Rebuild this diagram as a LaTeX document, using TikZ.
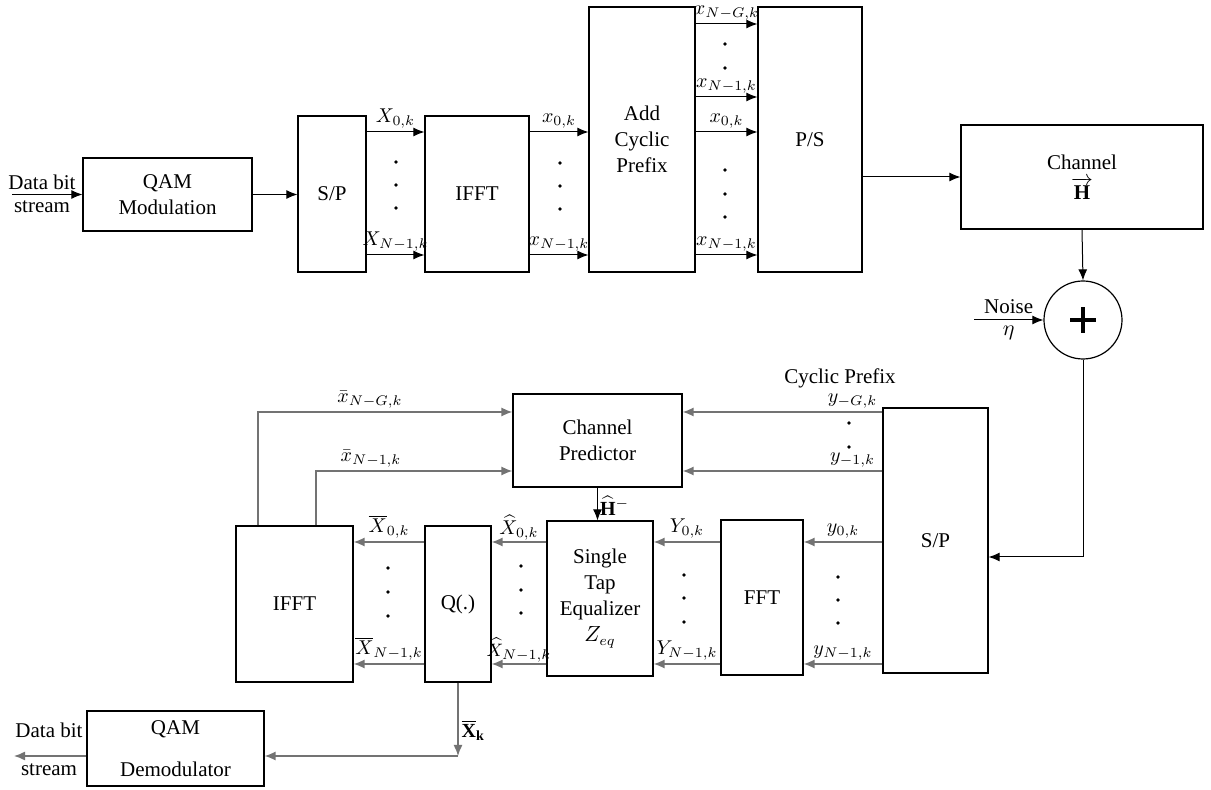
\documentclass[tikz,border=0pt]{standalone}
\usepackage{amsmath,amssymb}
\usepackage{fontspec}
\setmainfont{Liberation Serif}
\usetikzlibrary{arrows.meta}
\colorlet{linegray}{black!55}

\begin{document}
\begin{tikzpicture}[x=0.5pt,y=-0.5pt,
  blk/.style={draw, line width=0.6pt, inner sep=1pt, align=center,
    font=\fontsize{10.5}{13}\selectfont},
  arr/.style={-{Latex[length=5.5pt,width=4.5pt]}, line width=0.5pt},
  garr/.style={arr, draw=linegray, line width=0.7pt},
  lbl/.style={inner sep=1.5pt, font=\fontsize{10}{12}\selectfont},
  txt/.style={inner sep=1pt, font=\fontsize{10.5}{13}\selectfont}]
  \useasboundingbox (0,0) rectangle (1211,790);

  % transmitter
  \node[blk, minimum width=84.5pt, minimum height=36.5pt] (qam) at (167.5,194.5) {QAM\\Modulation};
  \node[blk, minimum width=34pt, minimum height=78pt] (sp1) at (332,194) {S/P};
  \node[blk, minimum width=52pt, minimum height=78pt] (ifft1) at (477,194) {IFFT};
  \node[blk, minimum width=53pt, minimum height=132.5pt] (acp) at (642,139.5) {Add\\Cyclic\\Prefix};
  \node[blk, minimum width=52pt, minimum height=132.5pt] (ps) at (810,139.5) {P/S};
  \node[blk, minimum width=121pt, minimum height=52pt] (chan) at (1082,177) {Channel\\[2pt]$\overrightarrow{\mathbf{H}}$};
  \node[draw, circle, line width=0.6pt, minimum size=39pt, inner sep=0pt] (add) at (1083,320) {};
  \draw[line width=1.6pt] ([xshift=-6.5pt]add.center) -- ([xshift=6.5pt]add.center)
    ([yshift=-6.5pt]add.center) -- ([yshift=6.5pt]add.center);

  \coordinate (in) at (12,194.5);
  \draw[arr] (in) -- (qam.west);
  \node[txt] (inA) at (42,182) {Data bit};
  \node[txt] (inB) at (42,207) {stream};
  \draw[arr] (qam.east) -- (qam.east -| sp1.west);

  \draw[arr] (sp1.east |- 0,132) -- node[lbl,above] (lXa) {$X_{0,k}$} (ifft1.west |- 0,132);
  \draw[arr] (sp1.east |- 0,255) -- node[lbl,above] (lXb) {$X_{N-1,k}$} (ifft1.west |- 0,255);
  \draw[arr] (ifft1.east |- 0,132) -- node[lbl,above] (lxa) {$x_{0,k}$} (acp.west |- 0,132);
  \draw[arr] (ifft1.east |- 0,255) -- node[lbl,above] (lxb) {$x_{N-1,k}$} (acp.west |- 0,255);
  \draw[arr] (acp.east |- 0,24) -- node[lbl,above] (lpa) {$x_{N-G,k}$} (ps.west |- 0,24);
  \draw[arr] (acp.east |- 0,97) -- node[lbl,above] (lpb) {$x_{N-1,k}$} (ps.west |- 0,97);
  \draw[arr] (acp.east |- 0,132) -- node[lbl,above] (lpc) {$x_{0,k}$} (ps.west |- 0,132);
  \draw[arr] (acp.east |- 0,255) -- node[lbl,above] (lpd) {$x_{N-1,k}$} (ps.west |- 0,255);
  \foreach \y in {162,185,208} \fill (396,\y) circle (0.9pt);
  \foreach \y in {163,186,209} \fill (560,\y) circle (0.9pt);
  \foreach \y in {44,68,170,194,217} \fill (725,\y) circle (0.9pt);

  \draw[arr] (ps.east |- chan.west) -- (chan.west);
  \draw[arr] (chan.south) -- (add.north);
  \coordinate (noise) at (974,320);
  \draw[arr] (noise) -- node[txt,above=2pt] (lnA) {Noise} node[txt,below=2pt] (lnB) {$\eta$} (add.west);

  % receiver
  \node[blk, minimum width=52.5pt, minimum height=132.5pt] (sp2) at (935.5,540.5) {S/P};
  \node[blk, minimum width=84.5pt, minimum height=46.5pt] (pred) at (597.5,440.5) {Channel\\Predictor};
  \node[blk, minimum width=41pt, minimum height=77.5pt] (fft) at (762,597.5) {FFT};
  \node[blk, minimum width=53pt, minimum height=77.5pt] (eq) at (600,598.5) {Single\\Tap\\Equalizer\\$Z_{eq}$};
  \node[blk, minimum width=33pt, minimum height=78pt] (quant) at (458,604) {Q(.)};
  \node[blk, minimum width=58.5pt, minimum height=78pt] (ifft2) at (294.5,604) {IFFT};
  \node[blk, minimum width=88.5pt, minimum height=37.5pt] (demod) at (175.5,748.5) {QAM\\[8pt]Demodulator};

  \draw[arr] (add.south) |- (sp2.east |- 0,557);
  \node[txt] (cpl) at (840,378) {Cyclic Prefix};

  \draw[garr] (sp2.west |- 0,412) -- node[lbl,above,pos=0.15] (lya) {$y_{-G,k}$} (pred.east |- 0,412);
  \draw[garr] (sp2.west |- 0,471) -- node[lbl,above,pos=0.15] (lyb) {$y_{-1,k}$} (pred.east |- 0,471);
  \draw[garr] (sp2.west |- 0,542) -- node[lbl,above] (lyc) {$y_{0,k}$} (fft.east |- 0,542);
  \draw[garr] (sp2.west |- 0,664) -- node[lbl,above] (lyd) {$y_{N-1,k}$} (fft.east |- 0,664);
  \draw[garr] (fft.west |- 0,542) -- node[lbl,above] (lYa) {$Y_{0,k}$} (eq.east |- 0,542);
  \draw[garr] (fft.west |- 0,664) -- node[lbl,above] (lYb) {$Y_{N-1,k}$} (eq.east |- 0,664);
  \draw[garr] (eq.west |- 0,542) -- node[lbl,above,inner sep=0.5pt] (lZa) {$\widehat{X}_{0,k}$} (quant.east |- 0,542);
  \draw[garr] (eq.west |- 0,664) -- node[lbl,above,inner sep=0.5pt,font=\fontsize{9.5}{11}\selectfont] (lZb) {$\widehat{X}_{N-1,k}$} (quant.east |- 0,664);
  \draw[garr] (quant.west |- 0,542) -- node[lbl,above] (lQa) {$\overline{X}_{0,k}$} (ifft2.east |- 0,542);
  \draw[garr] (quant.west |- 0,664) -- node[lbl,above] (lQb) {$\overline{X}_{N-1,k}$} (ifft2.east |- 0,664);
  \foreach \y in {423,447} \fill (849,\y) circle (0.9pt);
  \foreach \y in {577,600,623} \fill (838,\y) circle (0.9pt);
  \foreach \y in {575,598,622} \fill (684,\y) circle (0.9pt);
  \foreach \y in {566,590,613} \fill (521,\y) circle (0.9pt);
  \foreach \y in {568,592,616} \fill (388,\y) circle (0.9pt);

  \draw[arr] (pred.south) -- node[lbl,right,pos=0.55,inner sep=1pt] (lH) {$\widehat{\mathbf{H}}^{-}$} (pred.south |- eq.north);

  % feedback to the predictor
  \draw[garr] (258,0 |- ifft2.north) |- node[lbl,above,pos=0.72] (lfa) {$\bar{x}_{N-G,k}$} (pred.west |- 0,412);
  \draw[garr] (316,0 |- ifft2.north) |- node[lbl,above,pos=0.64] (lfb) {$\bar{x}_{N-1,k}$} (pred.west |- 0,471);

  \coordinate (qk) at (458,756);
  \draw[garr] (quant.south) -- node[lbl,right,pos=0.65] (lXk) {$\overline{\mathbf{X}}_{\mathbf{k}}$} (qk);
  \draw[garr] (qk) -- (demod.east |- qk);
  \coordinate (out) at (14,756);
  \draw[garr] (demod.west |- out) -- (out);
  \node[txt] (outA) at (49,730) {Data bit};
  \node[txt] (outB) at (49,770) {stream};
\end{tikzpicture}
\end{document}
